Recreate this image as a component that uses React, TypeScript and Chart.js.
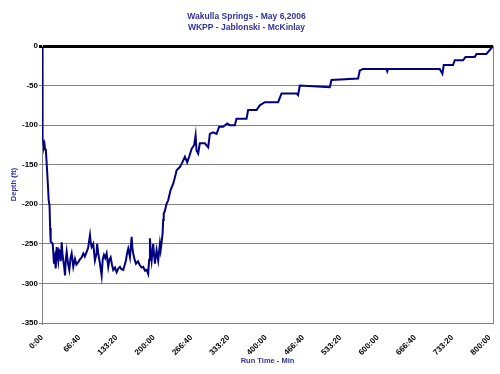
import { useEffect, useRef } from 'react';
import { Chart, registerables } from 'chart.js';

Chart.register(...registerables);

const titleLines = ['Wakulla Springs - May 6,2006', 'WKPP - Jablonski - McKinlay'];
const xAxisTitle = 'Run Time - Min';
const yAxisTitle = 'Depth (ft)';

// x tick positions (minutes) and their labels (mm:ss)
const xTickValues = [0, 66.667, 133.333, 200, 266.667, 333.333, 400, 466.667, 533.333, 600, 666.667, 733.333, 800];
const xTickLabels = ['0:00', '66:40', '133:20', '200:00', '266:40', '333:20', '400:00', '466:40', '533:20', '600:00', '666:40', '733:20', '800:00'];
const yTickValues = [0, -50, -100, -150, -200, -250, -300, -350];

// run time in minutes
const runTimeMin = [
  0, 0.4, 1.0, 1.6, 2.5, 3.5, 4.5, 5.5, 7.0, 8.5, 10.5, 12.0, 13.5, 14.5, 15.5, 17.0,
  19.1, 20.3, 21.4, 23.0, 24.5, 26.3, 27.5, 29.1, 30.5, 32.1, 33.5, 35.2, 36.5, 38.0, 39.5, 41.1,
  42.5, 44.1, 46.5, 48.8, 51.0, 53.0, 55.9, 58.9, 61.5, 64.8, 67.5, 70.9, 73.8, 76.5, 79.8, 82.5,
  85.7, 87.0, 88.8, 91.6, 94.6, 97.5, 98.5, 100.5, 103.6, 106.6, 108.5, 110.7, 113.0, 115.5, 118.4,
  120.5, 122.7, 125.0, 127.3, 130.5, 133.4, 136.5, 139.3, 142.0, 145.2, 148.0, 150.0, 152.0, 154.1,
  157.2, 160.2, 161.5, 163.0, 165.5, 167.9, 171.5, 175.0, 178.0, 180.9, 184.0, 187.0, 189.8, 191.5,
  192.9, 194.5, 195.9, 198.8, 200.5, 201.8, 204.8, 206.5, 207.7, 210.7, 212.0, 213.8, 215.5,
  216.6, 217.5, 219.7, 222.7, 225.5, 229.8, 234.5, 239.3, 240.5, 246.4, 249.5, 255.4, 259.5, 263.0,
  267.3, 272.0, 274.5, 276.2, 279.1, 282.1, 291.1, 297.0, 300.0, 305.9, 312.0, 316.6, 323.8, 330.9,
  335.7, 344.6, 347.6, 365.5, 368.4, 383.4, 389.3, 398.2, 422.0, 428.1, 454.9, 457.7, 460.7, 514.3,
  517.3, 564.9, 567.9, 573.8, 615.6, 617.0, 618.5, 710.8, 715.6, 718.0, 734.6, 737.7, 752.5, 756.8,
  773.4, 776.4, 794.2, 805.0,
];

// depth in feet
const depthFt = [
  -1, -20, -80, -118, -122, -127, -124, -130, -133, -150, -175, -195, -202, -230, -247, -248,
  -250, -262, -275, -268, -281, -254, -262, -271, -258, -260, -272, -248, -262, -271, -278, -290,
  -270, -260, -275, -283, -268, -262, -279, -269, -276, -273, -270, -267, -262, -266, -260, -255,
  -239, -248, -254, -250, -271, -262, -250, -262, -275, -290, -270, -264, -268, -262, -279,
  -270, -267, -276, -283, -280, -286, -281, -279, -282, -283, -276, -271, -262, -256,
  -267, -241, -255, -262, -270, -275, -272, -277, -280, -279, -284, -283, -288, -270,
  -243, -262, -271, -250, -265, -275, -258, -266, -271, -250, -258, -248, -237,
  -220, -212, -208, -199, -195, -182, -174, -161, -157, -153, -149, -140, -147, -140,
  -130, -125, -113, -132, -136, -123, -123, -128, -111, -109, -111, -102, -102, -98,
  -100, -100, -92, -92, -81, -81, -75, -71, -71, -60, -60, -62, -50, -52,
  -43, -41, -31, -29, -29, -32, -29, -29, -35, -24, -24, -18, -18, -14,
  -14, -10, -10, -1,
];

const frameRight = {
  id: 'frameRight',
  beforeDatasetsDraw(chart: any) {
    const { ctx, chartArea } = chart;
    ctx.save();
    ctx.strokeStyle = '#808080';
    ctx.lineWidth = 1;
    ctx.beginPath();
    ctx.moveTo(chartArea.right + 0.5, chartArea.top);
    ctx.lineTo(chartArea.right + 0.5, chartArea.bottom);
    ctx.stroke();
    ctx.restore();
  },
};

export default function App() {
  const ref = useRef<HTMLCanvasElement>(null);

  useEffect(() => {
    if (!ref.current) return;
    const points = runTimeMin.map((x, i) => ({ x, y: depthFt[i] }));
    const chart = new Chart(ref.current, {
      type: 'line',
      data: {
        datasets: [
          {
            data: points,
            borderColor: '#000080',
            borderWidth: 2,
            pointRadius: 0,
            tension: 0,
            fill: false,
          },
        ],
      },
      plugins: [frameRight],
      options: {
        responsive: false,
        animation: false,
        layout: { padding: { left: 0, right: 7, top: 0, bottom: 0 } },
        plugins: {
          legend: { display: false },
          tooltip: { enabled: false },
          title: {
            display: true,
            text: titleLines,
            color: '#333399',
            font: { family: 'Liberation Sans', size: 8.5, weight: 'bold', lineHeight: 1.3 },
            padding: { top: 11, bottom: 12.9 },
          },
        },
        scales: {
          x: {
            type: 'linear',
            min: 0,
            max: 806,
            afterFit: (scale: any) => {
              scale.height = 51;
            },
            afterBuildTicks: (scale: any) => {
              scale.ticks = xTickValues.map((v) => ({ value: v }));
            },
            grid: { display: false },
            border: { display: true, color: '#808080', width: 1 },
            ticks: {
              autoSkip: false,
              maxRotation: 45,
              minRotation: 45,
              padding: 2,
              color: '#000',
              font: { family: 'Liberation Sans', size: 8, weight: 'bold' },
              callback: (_v: any, i: number) => xTickLabels[i],
            },
            title: {
              display: true,
              text: xAxisTitle,
              color: '#333399',
              font: { family: 'Liberation Sans', size: 7.5, weight: 'bold', lineHeight: 1.2 },
              padding: { top: 0, bottom: 8.5 },
            },
          },
          y: {
            type: 'linear',
            min: -350,
            max: 0,
            afterFit: (scale: any) => {
              scale.width = 42;
            },
            afterBuildTicks: (scale: any) => {
              scale.ticks = yTickValues.map((v) => ({ value: v }));
            },
            grid: {
              display: true,
              drawTicks: true,
              tickLength: 3,
              color: (ctx: any) => (ctx.tick && ctx.tick.value === 0 ? '#000000' : '#808080'),
              lineWidth: (ctx: any) => (ctx.tick && ctx.tick.value === 0 ? 3 : 1),
            },
            border: { display: true, color: '#808080', width: 1 },
            ticks: {
              padding: 1,
              color: '#000',
              font: { family: 'Liberation Sans', size: 8, weight: 'bold' },
            },
            title: {
              display: true,
              text: yAxisTitle,
              color: '#333399',
              font: { family: 'Liberation Sans', size: 7.5, weight: 'bold', lineHeight: 1.2 },
              padding: { top: 9.5, bottom: 0 },
            },
          },
        },
      },
    });
    return () => chart.destroy();
  }, []);

  return (
    <div style={{ position: 'absolute', left: 0, top: 0, width: 500, height: 374 }}>
      <canvas ref={ref} width={500} height={374} />
    </div>
  );
}
